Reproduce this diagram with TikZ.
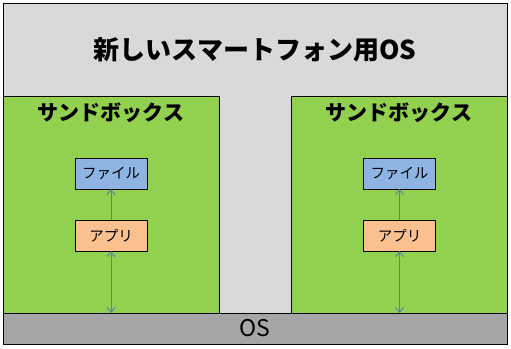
\documentclass[tikz,border=0pt]{standalone}
\usepackage{fontspec}
\newfontfamily\jpfont{Noto Sans CJK JP}
\usetikzlibrary{arrows.meta, positioning}

\definecolor{osgray}{HTML}{D9D9D9}
\definecolor{basegray}{HTML}{A6A6A6}
\definecolor{sandgreen}{HTML}{92D050}
\definecolor{fileblue}{HTML}{8DB4E2}
\definecolor{appsalmon}{HTML}{FAC090}
\definecolor{linkblue}{HTML}{4F81BD}

\begin{document}
\begin{tikzpicture}[x=1pt, y=-1pt,
    panel/.style={draw=black, line width=0.9pt, inner sep=0pt, outer sep=0pt},
    item/.style={panel, minimum width=72pt, minimum height=31pt, font=\jpfont\fontsize{14.5}{14.5}\selectfont},
    link/.style={draw=linkblue, line width=0.9pt, -{Straight Barb[length=5pt, width=8pt]}},
    label/.style={font=\jpfont\bfseries\fontsize{21}{21}\selectfont}]

    \useasboundingbox (0,0) rectangle (511,348);

    % Phone OS frame
    \node[panel, fill=osgray, anchor=north west, minimum width=504pt, minimum height=341pt] (phone) at (3,3) {};
    \node[font=\jpfont\bfseries\fontsize{26}{26}\selectfont] (title) at (255,50) {新しいスマートフォン用OS};

    % Sandboxes
    \node[panel, fill=sandgreen, anchor=north west, minimum width=216pt, minimum height=217pt] (boxL) at (3,96) {};
    \node[panel, fill=sandgreen, anchor=north west, minimum width=216pt, minimum height=217pt] (boxR) at (291,96) {};
    \node[label] (sbL) at (111,113) {サンドボックス};
    \node[label] (sbR) at (399,113) {サンドボックス};

    % Base OS layer
    \node[panel, fill=basegray, anchor=north west, minimum width=504pt, minimum height=31pt,
          font=\jpfont\fontsize{23}{23}\selectfont] (os) at (3,313) {OS};

    % Files and apps
    \node[item, fill=fileblue] (fileL) at (111,173.5) {ファイル};
    \node[item, fill=appsalmon] (appL) at (111,235.5) {アプリ};
    \node[item, fill=fileblue] (fileR) at (399.5,173.5) {ファイル};
    \node[item, fill=appsalmon] (appR) at (399.5,235.5) {アプリ};

    % Access paths
    \draw[link] (appL.north) -- (fileL.south);
    \draw[link] (appR.north) -- (fileR.south);
    \draw[link, {Straight Barb[length=5pt, width=8pt]}-{Straight Barb[length=5pt, width=8pt]}] (appL.south) -- (appL.south |- os.north);
    \draw[link, {Straight Barb[length=5pt, width=8pt]}-{Straight Barb[length=5pt, width=8pt]}] (appR.south) -- (appR.south |- os.north);

\end{tikzpicture}
\end{document}
